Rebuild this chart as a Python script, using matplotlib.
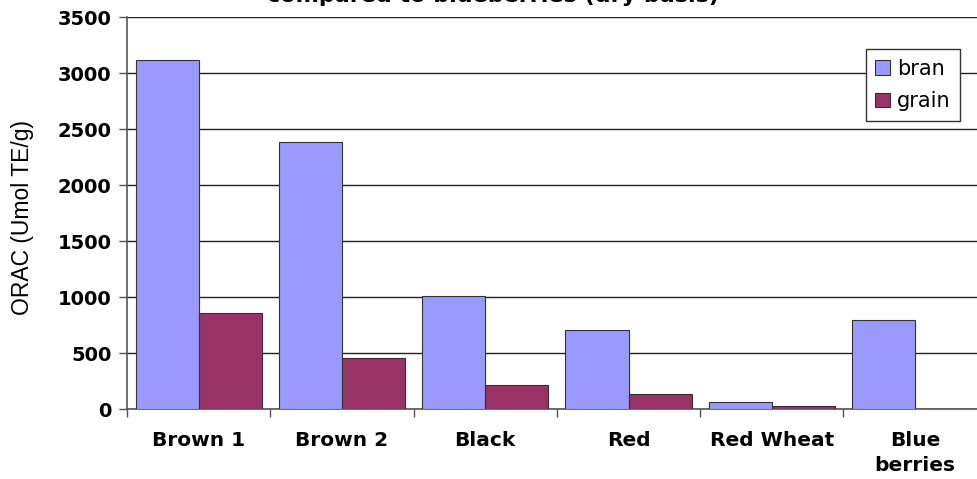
import numpy as np
import matplotlib.pyplot as plt

plt.rcParams['font.family'] = ['DejaVu Sans']

categories = ["Brown 1", "Brown 2", "Black", "Red", "Red Wheat", "Blue\nberries"]
bran = [3120, 2390, 1010, 710, 62, 800]
grain = [860, 455, 215, 135, 25, 0]

fig = plt.figure(figsize=(9.77, 4.79), dpi=100)
ax = fig.add_axes([0.130, 0.146, 0.880, 0.818])

x = np.arange(len(categories))
w = 0.44
ax.bar(x - w / 2, bran, w, color="#9999FF", edgecolor="#333333", linewidth=0.8,
       label="bran", zorder=3)
ax.bar(x + w / 2, grain, w, color="#993366", edgecolor="#333333", linewidth=0.8,
       label="grain", zorder=3)

ax.set_xlim(-0.5, len(categories) - 0.5)
ax.set_ylim(0, 3500)
ax.set_yticks(np.arange(0, 3501, 500))
ax.tick_params(axis="y", labelsize=14, length=6, width=1, color="#555555", pad=5)
for t in ax.get_yticklabels():
    t.set_fontweight("bold")

# category labels centred, tick marks between categories
ax.set_xticks(x)
ax.set_xticklabels(categories, fontsize=14.5, fontweight="bold", linespacing=1.4)
ax.set_xticks(np.arange(-0.5, len(categories), 1), minor=True)
ax.tick_params(axis="x", which="major", length=0, pad=16)
ax.tick_params(axis="x", which="minor", length=6, width=1, color="#555555")

ax.yaxis.grid(True, color="#222222", linewidth=1, zorder=0)
ax.set_axisbelow(True)
for s in ["top", "right"]:
    ax.spines[s].set_visible(False)
ax.spines["left"].set_color("#555555")
ax.spines["bottom"].set_color("#555555")
ax.spines["left"].set_linewidth(1.2)
ax.spines["bottom"].set_linewidth(1.2)

ax.set_ylabel("ORAC (Umol TE/g)", fontsize=16.5, family="Liberation Sans")
ax.yaxis.set_label_coords(-0.108, 0.49)

leg = ax.legend(loc="upper right", bbox_to_anchor=(0.969, 0.918), fontsize=15,
                frameon=True, fancybox=False, handlelength=0.7, handleheight=0.7,
                handletextpad=0.35, borderpad=0.45, labelspacing=0.6,
                borderaxespad=0, edgecolor="#333333")
leg.get_frame().set_linewidth(1)
leg.get_frame().set_alpha(1)

fig.text(0.505, 1 - 2 / 479, "compared to blueberries (dry basis)", ha="center",
         va="baseline", fontsize=16, fontweight="bold")

fig.savefig("out.png", dpi=100)
